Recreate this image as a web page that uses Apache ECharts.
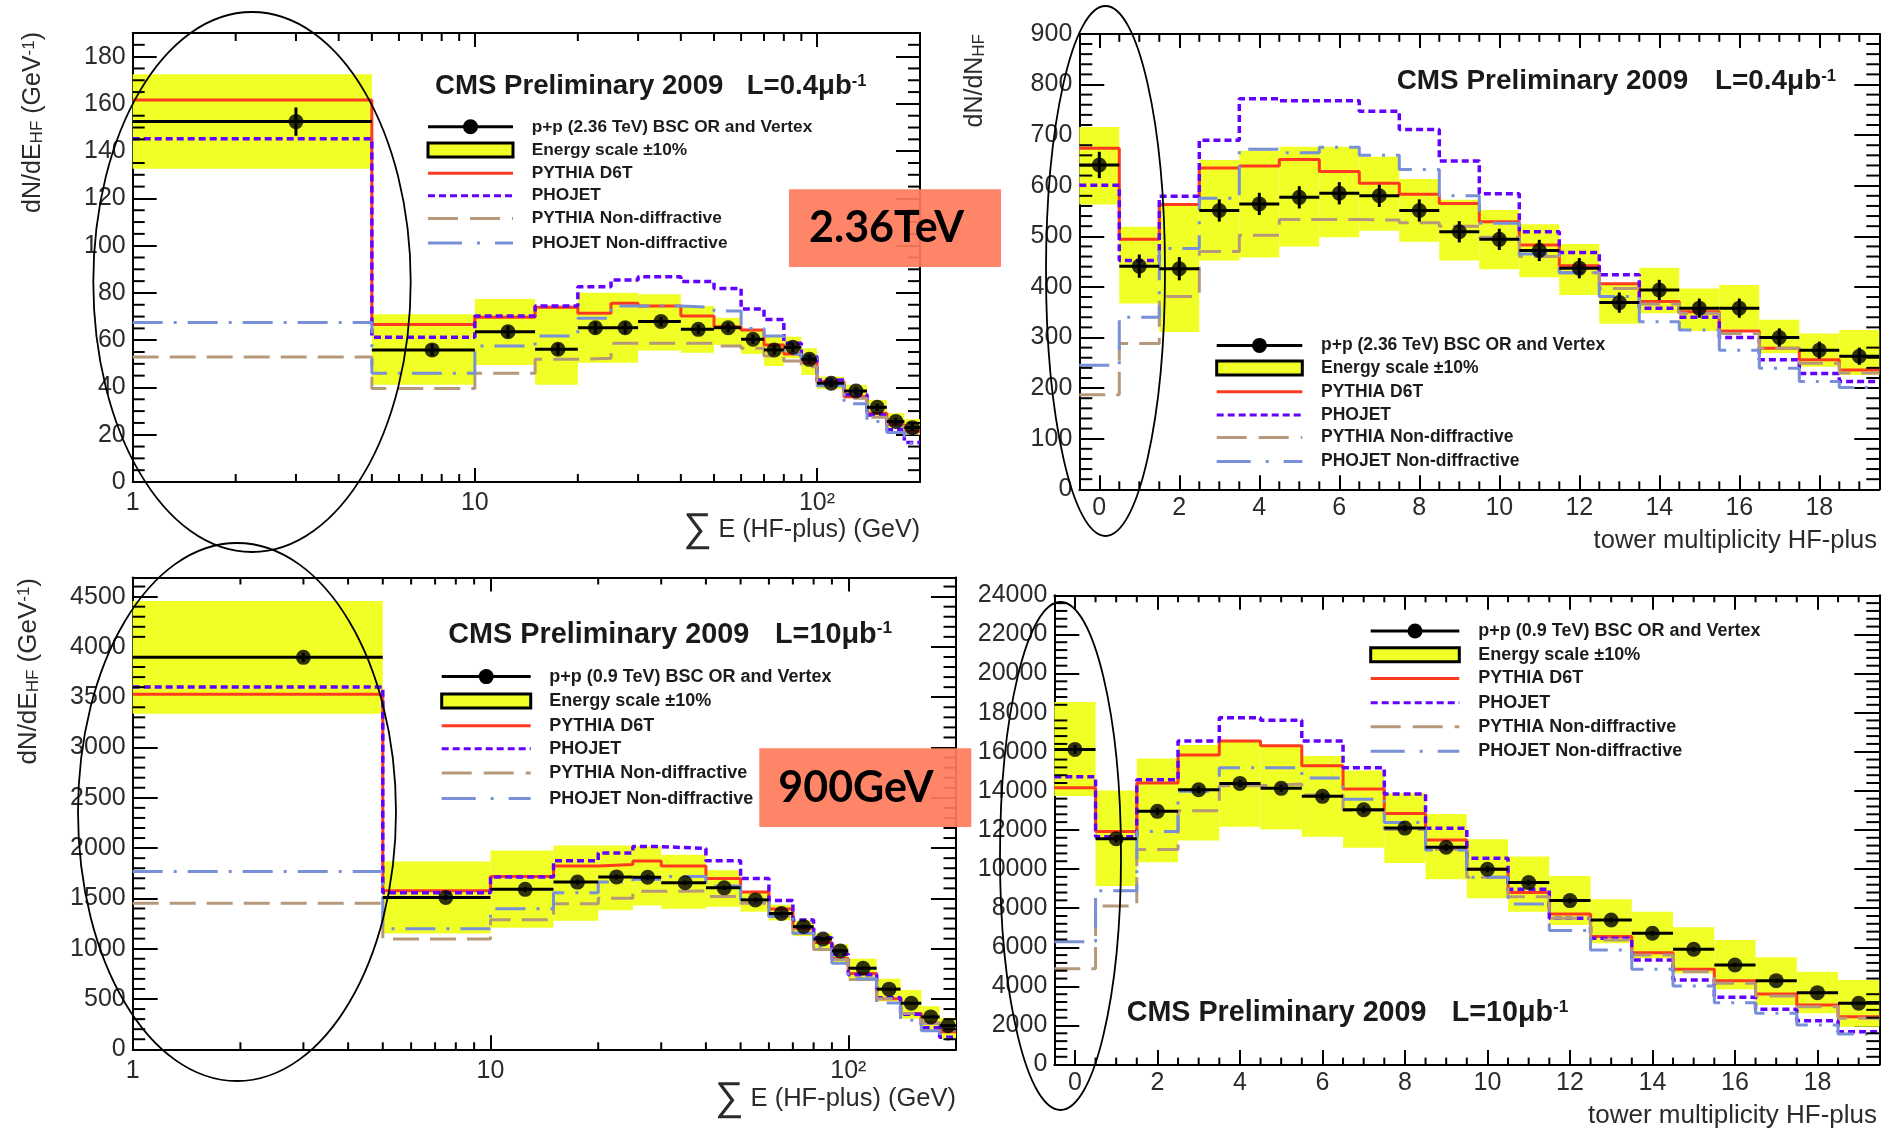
<!DOCTYPE html>
<html>
<head>
<meta charset="utf-8">
<title>HF-plus energy and tower multiplicity, CMS 2009</title>
<script src="https://cdn.jsdelivr.net/npm/echarts@6/dist/echarts.min.js"></script>
<style>
  html, body { margin: 0; padding: 0; background: #fff; }
  #c { width: 1885px; height: 1131px; }
</style>
</head>
<body>
<div id="c"></div>
<script>
// ---------------- bin edges ----------------
const eEdges = [1, 5, 10, 15, 20, 25, 30, 40, 50, 60, 70, 80, 90, 100, 120, 140, 160, 180, 200];
const towerEdges = [-0.5, 0.5, 1.5, 2.5, 3.5, 4.5, 5.5, 6.5, 7.5, 8.5, 9.5, 10.5, 11.5, 12.5, 13.5, 14.5, 15.5, 16.5, 17.5, 18.5, 19.5];

// ---------------- 2.36 TeV : dN/dE_HF vs sum E ----------------
const e236Data   = [152.5, 55.9, 63.6, 56.2, 65.3, 65.3, 67.9, 64.6, 65.3, 60.4, 55.9, 57.0, 51.9, 41.8, 38.5, 31.6, 25.6, 23.0];
const e236Err    = [6, 2.5, 2.5, 2.5, 2.5, 2.5, 2, 2, 2, 2, 2, 2, 2, 1.5, 1.5, 1.5, 1.5, 1.5];
const e236BandLo = [132.6, 41.1, 49.5, 41.1, 50.5, 50.5, 55.6, 54.7, 58.0, 54.2, 49.1, 52.4, 45.3, 39.3, 35.4, 27.7, 22.8, 20.0];
const e236BandHi = [172.5, 71.0, 77.4, 74.3, 80.1, 80.1, 79.5, 74.5, 69.5, 64.3, 61.5, 61.5, 56.6, 44.6, 41.1, 34.7, 29.1, 26.6];
const e236D6T    = [161.6, 66.7, 69.7, 73.9, 71.4, 75.6, 74.5, 70.2, 65.7, 64.3, 58.0, 54.2, 50.5, 42.5, 36.1, 29.1, 24.2, 21.4];
const e236Phojet = [145.3, 61.2, 70.2, 74.5, 82.6, 85.5, 86.9, 84.8, 81.9, 73.2, 68.8, 58.7, 53.1, 43.2, 36.9, 28.4, 22.1, 16.7];
const e236PyND   = [52.9, 39.6, 46.0, 51.9, 52.4, 58.7, 58.7, 58.7, 57.6, 56.6, 53.3, 51.2, 48.8, 41.8, 35.4, 27.4, 23.5, 20.6];
const e236PhND   = [67.5, 46.0, 57.6, 61.8, 69.3, 74.5, 74.5, 73.9, 72.4, 65.0, 61.8, 54.2, 52.4, 40.7, 33.1, 25.6, 20.9, 16.4];

// ---------------- 2.36 TeV : dN/dN_HF vs tower multiplicity ----------------
const n236Data   = [641, 441, 436, 551, 564, 577, 585, 580, 551, 509, 494, 472, 437, 369, 394, 358, 358, 300, 275, 263];
const n236Err    = [26, 23, 23, 22, 22, 22, 22, 22, 22, 21, 21, 21, 20, 20, 20, 19, 19, 18, 17, 17];
const n236BandLo = [563, 367, 311, 452, 458, 480, 498, 511, 489, 452, 435, 419, 384, 327, 348, 313, 316, 269, 242, 226];
const n236BandHi = [716, 519, 561, 651, 669, 677, 677, 657, 613, 572, 552, 524, 485, 404, 438, 397, 404, 335, 308, 315];
const n236D6T    = [674, 494, 563, 635, 639, 652, 628, 605, 583, 565, 529, 483, 442, 406, 371, 351, 313, 279, 256, 236];
const n236Phojet = [601, 452, 579, 690, 772, 768, 768, 747, 711, 649, 584, 509, 468, 424, 358, 340, 300, 256, 229, 213];
const n236PyND   = [187, 288, 381, 470, 502, 533, 533, 532, 527, 520, 498, 460, 428, 397, 366, 348, 308, 279, 249, 230];
const n236PhND   = [245, 340, 476, 575, 672, 665, 676, 660, 632, 580, 526, 465, 428, 381, 331, 315, 275, 239, 213, 201];

// ---------------- 900 GeV : dN/dE_HF vs sum E ----------------
const e900Data   = [3896, 1510, 1590, 1662, 1714, 1710, 1656, 1605, 1485, 1350, 1220, 1096, 978, 806, 598, 458, 322, 235];
const e900Err    = [45, 25, 25, 25, 25, 25, 22, 22, 22, 20, 20, 18, 18, 15, 12, 12, 10, 10];
const e900BandLo = [3335, 1151, 1209, 1278, 1382, 1430, 1398, 1416, 1368, 1281, 1125, 978, 846, 693, 477, 304, 191, 105];
const e900BandHi = [4457, 1868, 1975, 2025, 2025, 2020, 1935, 1780, 1565, 1437, 1281, 1152, 1045, 901, 702, 590, 429, 313];
const e900D6T    = [3530, 1575, 1718, 1821, 1838, 1873, 1821, 1697, 1563, 1394, 1204, 1062, 902, 753, 503, 356, 261, 174];
const e900Phojet = [3602, 1557, 1714, 1875, 1951, 2015, 1996, 1875, 1697, 1480, 1285, 1108, 945, 740, 513, 349, 214, 119];
const e900PyND   = [1452, 1097, 1289, 1446, 1502, 1570, 1574, 1519, 1451, 1322, 1152, 991, 893, 694, 503, 356, 257, 191];
const e900PhND   = [1767, 1198, 1397, 1557, 1662, 1690, 1718, 1623, 1489, 1320, 1155, 1018, 855, 701, 461, 288, 184, 100];

// ---------------- 900 GeV : dN/dN_HF vs tower multiplicity ----------------
const n900Data   = [16118, 11553, 12951, 14056, 14380, 14128, 13718, 13034, 12096, 11114, 9991, 9307, 8386, 7397, 6715, 5897, 5095, 4294, 3680, 3135];
const n900Err    = [220, 190, 190, 180, 180, 180, 175, 170, 165, 160, 150, 145, 140, 130, 125, 115, 105, 100, 90, 85];
const n900BandLo = [13733, 9131, 10342, 11460, 12168, 12019, 11646, 11087, 10305, 9477, 8505, 7823, 7141, 6204, 5436, 4669, 3851, 3050, 2623, 1941];
const n900BandHi = [18541, 14013, 15653, 16342, 16584, 16305, 15783, 15038, 13882, 12819, 11523, 10637, 9647, 8454, 7823, 7022, 6374, 5488, 4754, 4328];
const n900D6T    = [14162, 11926, 14404, 15839, 16547, 16305, 15280, 14094, 12836, 11489, 9989, 8795, 7704, 6545, 5726, 4874, 4294, 3612, 3050, 2452];
const n900Phojet = [14721, 11646, 14572, 16547, 17740, 17609, 16547, 15178, 13834, 12086, 10551, 8966, 7482, 6460, 5351, 4328, 3441, 2828, 2248, 1686];
const n900PyND   = [4901, 8106, 10994, 12988, 14255, 14348, 13789, 13006, 12028, 11012, 9580, 8590, 7482, 6374, 5607, 4754, 4158, 3510, 2964, 2367];
const n900PhND   = [6280, 8888, 11926, 13975, 15187, 15187, 14654, 13568, 12384, 10978, 9580, 8215, 6852, 5862, 4874, 4021, 3169, 2623, 2027, 1566];

// ---------------- tick values ----------------
const logMinorTicks = [2, 3, 4, 5, 6, 7, 8, 9, 20, 30, 40, 50, 60, 70, 80, 90, 200];
const towerTicks = [0, 2, 4, 6, 8, 10, 12, 14, 16, 18];
const yTicksE236 = [0, 20, 40, 60, 80, 100, 120, 140, 160, 180];
const yTicksN236 = [0, 100, 200, 300, 400, 500, 600, 700, 800, 900];
const yTicksE900 = [0, 500, 1000, 1500, 2000, 2500, 3000, 3500, 4000, 4500];
const yTicksN900 = [0, 2000, 4000, 6000, 8000, 10000, 12000, 14000, 16000, 18000, 20000, 22000, 24000];

// ---------------- text ----------------
const legendLabels236 = ['p+p (2.36 TeV) BSC OR and Vertex', 'Energy scale \u00b110%', 'PYTHIA D6T', 'PHOJET', 'PYTHIA Non-diffractive', 'PHOJET Non-diffractive'];
const legendLabels900 = ['p+p (0.9 TeV) BSC OR and Vertex', 'Energy scale \u00b110%', 'PYTHIA D6T', 'PHOJET', 'PYTHIA Non-diffractive', 'PHOJET Non-diffractive'];

// ---------------- styling ----------------
const FONT = '"Liberation Sans", Arial, Helvetica, sans-serif';
const INK = '#2b2b2b';
const COL = { band: '#F0FF26', d6t: '#FF3B1F', phojet: '#6400FF', pyND: '#B6987A', phND: '#7890D8' };
const DASH = { d6t: 'solid', phojet: [7, 4], pyND: [26, 11], phND: [30, 11, 3, 11] };
const LEG_DASH = { d6t: null, phojet: [7, 4], pyND: [30, 12], phND: [34, 15, 3, 15] };
const WIDTH = { d6t: 3, phojet: 3.5, pyND: 3, phND: 3 };

function stepRange(a, b, step, skipEvery) {
  const out = [];
  for (let k = 0; a + k * step <= b + 1e-9; k++) {
    const v = +(a + k * step).toFixed(6);
    if (skipEvery && Math.abs(v / skipEvery - Math.round(v / skipEvery)) < 1e-9) continue;
    out.push(v);
  }
  return out;
}

const panels = [
  { grid: { left: 132.7, top: 33, width: 787.3, height: 449 }, log: true, xMin: 1, xMax: 200, yMax: 190,
    yTicks: yTicksE236, yMinor: stepRange(5, 185, 5, 20), xMinor: logMinorTicks, xLabelMargin: 9,
    tick: { xMaj: 14, xMin: 8, yMaj: 24, yMin: 12 },
    edges: eEdges, data: e236Data, err: e236Err, lo: e236BandLo, hi: e236BandHi,
    d6t: e236D6T, phojet: e236Phojet, pyND: e236PyND, phND: e236PhND },
  { grid: { left: 1079.3, top: 33.9, width: 800, height: 455.4 }, log: false, xMin: -0.5, xMax: 19.5, yMax: 900,
    xTicks: towerTicks, yTicks: yTicksN236, yMinor: stepRange(20, 880, 20, 100), xMinor: stepRange(0.5, 19, 0.5, 2), xLabelMargin: 6,
    tick: { xMaj: 14, xMin: 8, yMaj: 25, yMin: 13 },
    edges: towerEdges, data: n236Data, err: n236Err, lo: n236BandLo, hi: n236BandHi,
    d6t: n236D6T, phojet: n236Phojet, pyND: n236PyND, phND: n236PhND },
  { grid: { left: 132.7, top: 577.5, width: 823.3, height: 471.8 }, log: true, xMin: 1, xMax: 200, yMax: 4690,
    yTicks: yTicksE900, yMinor: stepRange(100, 4600, 100, 500), xMinor: logMinorTicks, xLabelMargin: 9,
    tick: { xMaj: 14, xMin: 7, yMaj: 25, yMin: 12.5 },
    edges: eEdges, data: e900Data, err: e900Err, lo: e900BandLo, hi: e900BandHi,
    d6t: e900D6T, phojet: e900Phojet, pyND: e900PyND, phND: e900PhND },
  { grid: { left: 1054.3, top: 595.3, width: 825, height: 469.3 }, log: false, xMin: -0.5, xMax: 19.5, yMax: 24000,
    xTicks: towerTicks, yTicks: yTicksN900, yMinor: stepRange(400, 23600, 400, 2000), xMinor: stepRange(0.5, 19, 0.5, 2), xLabelMargin: 6,
    tick: { xMaj: 14.5, xMin: 7, yMaj: 25, yMin: 13 },
    edges: towerEdges, data: n900Data, err: n900Err, lo: n900BandLo, hi: n900BandHi,
    d6t: n900D6T, phojet: n900Phojet, pyND: n900PyND, phND: n900PhND }
];

const grids = [], xAxes = [], yAxes = [], series = [];
const frameLine = { color: '#000', width: 2 };
const labelStyle = { fontSize: 25, color: INK, fontFamily: FONT };

function logLabel(v) {
  const r = Math.round(v);
  return r === 1 ? '1' : r === 10 ? '10' : r === 100 ? '10\u00b2' : '';
}
function plainNumber(v) {
  return String(Math.round(v * 1000) / 1000);
}

function tickLine(x1, y1, x2, y2) {
  return { type: 'line', shape: { x1, y1, x2, y2 }, style: { stroke: '#000', lineWidth: 2 } };
}

panels.forEach((p, i) => {
  grids.push(Object.assign({ containLabel: false, outerBoundsMode: 'none' }, p.grid));

  ['bottom', 'top'].forEach(pos => {
    const ax = {
      gridIndex: i, position: pos, min: p.xMin, max: p.xMax,
      axisLine: { show: true, onZero: false, lineStyle: frameLine },
      axisTick: { show: true, inside: true, length: p.tick.xMaj, lineStyle: frameLine },
      axisLabel: Object.assign({ show: pos === 'bottom', margin: p.xLabelMargin }, labelStyle),
      splitLine: { show: false }, minorTick: { show: false }, minorSplitLine: { show: false }
    };
    if (p.log) {
      ax.type = 'log';
      ax.logBase = 10;
      ax.axisLabel.formatter = logLabel;
      ax.axisLabel.showMaxLabel = false;
    } else {
      ax.type = 'value';
      ax.axisTick.customValues = p.xTicks;
      ax.axisLabel.customValues = p.xTicks;
      ax.axisLabel.formatter = plainNumber;
    }
    xAxes.push(ax);
  });

  ['left', 'right'].forEach(pos => {
    yAxes.push({
      type: 'value', gridIndex: i, position: pos, min: 0, max: p.yMax,
      axisLine: { show: true, onZero: false, lineStyle: frameLine },
      axisTick: { show: true, inside: true, length: p.tick.yMaj, lineStyle: frameLine, customValues: p.yTicks },
      axisLabel: Object.assign({ show: pos === 'left', margin: 7, customValues: p.yTicks, formatter: plainNumber }, labelStyle),
      splitLine: { show: false }, minorTick: { show: false }
    });
  });

  const xi = 2 * i, yi = 2 * i;

  // energy-scale band: one box per bin
  series.push({
    type: 'custom', xAxisIndex: xi, yAxisIndex: yi, z: 2, silent: true,
    encode: { x: [0, 1], y: [2, 3] },
    data: p.data.map((v, k) => [p.edges[k], p.edges[k + 1], p.lo[k], p.hi[k]]),
    renderItem: (params, api) => {
      const a = api.coord([api.value(0), api.value(3)]);
      const b = api.coord([api.value(1), api.value(2)]);
      return { type: 'rect', shape: { x: a[0], y: a[1], width: b[0] - a[0], height: b[1] - a[1] }, style: { fill: COL.band } };
    }
  });

  // model predictions as step histograms
  ['d6t', 'phojet', 'pyND', 'phND'].forEach(key => {
    const vals = p[key];
    series.push({
      type: 'line', xAxisIndex: xi, yAxisIndex: yi, z: 3, step: 'end', symbol: 'none', showSymbol: false, silent: true,
      data: p.edges.map((e, k) => [e, vals[Math.min(k, vals.length - 1)]]),
      lineStyle: { color: COL[key], width: WIDTH[key], type: DASH[key] }
    });
  });

  // data: horizontal bin-width bars and vertical errors
  series.push({
    type: 'custom', xAxisIndex: xi, yAxisIndex: yi, z: 4, silent: true,
    encode: { x: [0, 1], y: [3] },
    data: p.data.map((v, k) => [p.edges[k], p.edges[k + 1], (p.edges[k] + p.edges[k + 1]) / 2, v, p.err[k]]),
    renderItem: (params, api) => {
      const lo = api.value(0), hi = api.value(1), c = api.value(2), v = api.value(3), e = api.value(4);
      const h0 = api.coord([lo, v]), h1 = api.coord([hi, v]);
      const v0 = api.coord([c, v - e]), v1 = api.coord([c, v + e]);
      return { type: 'group', children: [
        { type: 'line', shape: { x1: h0[0], y1: h0[1], x2: h1[0], y2: h1[1] }, style: { stroke: '#000', lineWidth: 3 } },
        { type: 'line', shape: { x1: v0[0], y1: v0[1], x2: v1[0], y2: v1[1] }, style: { stroke: '#000', lineWidth: 3 } }
      ] };
    }
  });
  series.push({
    type: 'scatter', xAxisIndex: xi, yAxisIndex: yi, z: 5, silent: true,
    symbol: 'circle', symbolSize: 15, itemStyle: { color: '#000' },
    data: p.data.map((v, k) => [(p.edges[k] + p.edges[k + 1]) / 2, v])
  });

  // minor ticks on all four sides of the frame
  series.push({
    type: 'custom', xAxisIndex: xi, yAxisIndex: yi, z: 6, silent: true,
    data: p.xMinor.map(v => [v, 0]),
    renderItem: (params, api) => {
      const v = api.value(0), L = p.tick.xMin;
      const b = api.coord([v, 0]), t = api.coord([v, p.yMax]);
      return { type: 'group', children: [tickLine(b[0], b[1], b[0], b[1] - L), tickLine(t[0], t[1], t[0], t[1] + L)] };
    }
  });
  series.push({
    type: 'custom', xAxisIndex: xi, yAxisIndex: yi, z: 6, silent: true,
    data: p.yMinor.map(v => [p.xMin, v]),
    renderItem: (params, api) => {
      const v = api.value(1), L = p.tick.yMin;
      const l = api.coord([p.xMin, v]), r = api.coord([p.xMax, v]);
      return { type: 'group', children: [tickLine(l[0], l[1], l[0] + L, l[1]), tickLine(r[0], r[1], r[0] - L, r[1])] };
    }
  });
});

// ---------------- annotations ----------------
const G = [];
function font(size, weight, family) {
  return { fontSize: size, fontWeight: weight || 'normal', fontFamily: family || FONT };
}
function textEl(x, y, text, st, extra) {
  return Object.assign({
    type: 'text', x, y, z: 100, silent: true,
    style: Object.assign({ text, fill: INK, align: 'left', textAlign: 'left', verticalAlign: 'middle', textVerticalAlign: 'middle' }, st)
  }, extra || {});
}

// legends
const legends = [
  { x0: 428, x1: 513, tx: 531.7, fs: 17.3, rows: [126.8, 150, 173.2, 195.7, 218.6, 242.9], labels: legendLabels236 },
  { x0: 1216.7, x1: 1302.3, tx: 1321, fs: 17.5, rows: [345.4, 367.9, 391.8, 415, 437.5, 461.4], labels: legendLabels236 },
  { x0: 441.7, x1: 530.7, tx: 549.3, fs: 18, rows: [676.6, 701, 725.8, 748.7, 773.1, 798.6], labels: legendLabels900 },
  { x0: 1370.7, x1: 1459.3, tx: 1478.3, fs: 18, rows: [631, 654.7, 678.4, 702.8, 726.8, 751.3], labels: legendLabels900 }
];
legends.forEach(L => {
  const r = L.rows, xm = (L.x0 + L.x1) / 2;
  G.push({ type: 'line', z: 100, silent: true, shape: { x1: L.x0, y1: r[0], x2: L.x1, y2: r[0] }, style: { stroke: '#000', lineWidth: 3 } });
  G.push({ type: 'circle', z: 101, silent: true, shape: { cx: xm, cy: r[0], r: 7.5 }, style: { fill: '#000' } });
  G.push({ type: 'rect', z: 100, silent: true, shape: { x: L.x0, y: r[1] - 7, width: L.x1 - L.x0, height: 14 }, style: { fill: COL.band, stroke: '#000', lineWidth: 3 } });
  ['d6t', 'phojet', 'pyND', 'phND'].forEach((k, j) => {
    G.push({ type: 'line', z: 100, silent: true, shape: { x1: L.x0, y1: r[j + 2], x2: L.x1, y2: r[j + 2] },
      style: { stroke: COL[k], lineWidth: 3, lineDash: LEG_DASH[k] } });
  });
  L.labels.forEach((t, j) => G.push(textEl(L.tx, r[j], t, Object.assign({ fill: '#1c1c1c' }, font(L.fs, 'bold')))));
});

// experiment labels
const cmsLabels = [
  { x: 435, y: 86.8, fs: 27.6, lx: 746.7, lumi: 'L=0.4\u03bcb' },
  { x: 1396.7, y: 81.4, fs: 27.9, lx: 1715, lumi: 'L=0.4\u03bcb' },
  { x: 448.3, y: 634.7, fs: 28.8, lx: 775, lumi: 'L=10\u03bcb' },
  { x: 1126.7, y: 1012.8, fs: 28.7, lx: 1451.7, lumi: 'L=10\u03bcb' }
];
cmsLabels.forEach(c => {
  G.push(textEl(c.x, c.y, 'CMS Preliminary 2009', Object.assign({ fill: '#1a1a1a' }, font(c.fs, 'bold'))));
  G.push(textEl(c.lx, c.y, c.lumi + '{sup|-1}', Object.assign({ fill: '#1a1a1a',
    rich: { sup: Object.assign({ fill: '#1a1a1a', verticalAlign: 'top' }, font(c.fs * 0.6, 'bold')) } }, font(c.fs, 'bold'))));
});

// axis titles
const sub = Object.assign({ fill: INK, verticalAlign: 'bottom' }, font(17));
const sup = Object.assign({ fill: INK, verticalAlign: 'top' }, font(17));
const yTitles = [
  { x: 33, y: 32, text: 'dN/dE{sub|HF} (GeV{sup|-1})', fs: 25 },
  { x: 975, y: 34, text: 'dN/dN{sub|HF}', fs: 25 },
  { x: 29, y: 578, text: 'dN/dE{sub|HF} (GeV{sup|-1})', fs: 26 }
];
yTitles.forEach(t => G.push({
  type: 'text', x: t.x, y: t.y, rotation: Math.PI / 2, z: 100, silent: true,
  style: Object.assign({ text: t.text, fill: INK, align: 'right', textAlign: 'right', verticalAlign: 'middle', textVerticalAlign: 'middle',
    rich: { sub, sup } }, font(t.fs))
}));
const sumRich = { s: Object.assign({ fill: INK }, font(40)) };
const xTitles = [
  { x: 920, y: 530, text: '{s|\u2211} E (HF-plus) (GeV)', fs: 25 },
  { x: 1877, y: 541, text: 'tower multiplicity HF-plus', fs: 25.5 },
  { x: 956, y: 1099, text: '{s|\u2211} E (HF-plus) (GeV)', fs: 25.5 },
  { x: 1877, y: 1116, text: 'tower multiplicity HF-plus', fs: 26 }
];
xTitles.forEach(t => G.push(textEl(t.x, t.y, t.text,
  Object.assign({ align: 'right', textAlign: 'right', rich: sumRich }, font(t.fs)))));

// energy tags
const tags = [
  { x: 789, y: 189.3, w: 212, h: 77.8, tx: 809, text: '2.36TeV' },
  { x: 759.3, y: 748.3, w: 212, h: 78.7, tx: 778.3, text: '900GeV' }
];
tags.forEach(t => {
  G.push({ type: 'rect', z: 110, silent: true, shape: { x: t.x, y: t.y, width: t.w, height: t.h }, style: { fill: '#FF7B5C', opacity: 0.92 } });
  G.push(Object.assign(textEl(t.tx, t.y + t.h / 2, t.text, Object.assign({ fill: '#000' }, font(43, 'bold', 'Lato, "Open Sans", sans-serif'))), { z: 111 }));
});

// highlight ellipses around the first bins
const rings = [
  { cx: 252, cy: 282, rx: 158.7, ry: 270 },
  { cx: 1105.5, cy: 271, rx: 59.5, ry: 265 },
  { cx: 237, cy: 812, rx: 159, ry: 269 },
  { cx: 1060.5, cy: 856, rx: 60.5, ry: 254 }
];
rings.forEach(e => G.push({ type: 'ellipse', z: 120, silent: true, shape: e, style: { fill: null, stroke: '#000', lineWidth: 1.8 } }));

const chart = echarts.init(document.getElementById('c'), null, { renderer: 'canvas', width: 1885, height: 1131 });
chart.setOption({
  backgroundColor: '#ffffff',
  animation: false,
  grid: grids,
  xAxis: xAxes,
  yAxis: yAxes,
  series: series,
  graphic: { elements: G }
});
</script>
</body>
</html>
